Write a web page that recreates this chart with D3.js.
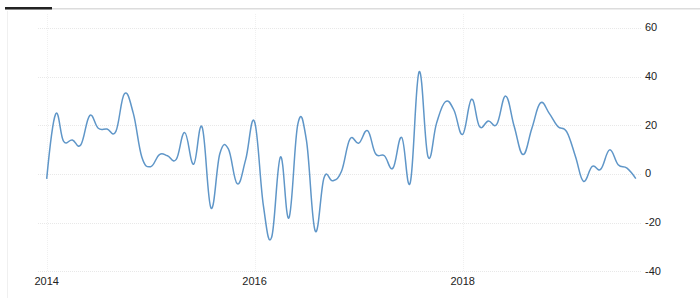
<!DOCTYPE html>
<html lang="en">
<head>
<meta charset="utf-8">
<title>Monthly change</title>
<script src="https://d3js.org/d3.v7.min.js"></script>
<style>
  body { margin: 0; background: #fff; font-family: "Liberation Sans", Arial, sans-serif; }
  .tick-label { font-size: 11px; fill: #222; }
</style>
</head>
<body>
<div id="vis"></div>
<script>
  // series, one value per month starting Jan 2014
  const startYear = 2014;
  const values = [
    -2, 24.5, 13.5, 14, 12, 24, 18.8, 18.5, 17.5, 33, 25, 7,
    3, 8, 7.5, 6, 17, 4, 19.2, -14, 8.3, 10.3, -4, 6,
    21.5, -13, -26, 7, -18, 20.5, 14, -23.4, -1.5, -2.8, 1, 14.3,
    12.7, 17.8, 8.3, 7.5, 2.4, 15, -3.5, 42, 7.2, 20.8, 29.7, 26.3,
    16.3, 30.7, 19.5, 21.8, 20.5, 32, 19.5, 8, 18.8, 29.2, 24.9, 19.5,
    17.4, 7.2, -3, 3.1, 2, 9.9, 3.8, 2.4, -1.9
  ];
  const yTicks = [-40, -20, 0, 20, 40, 60];
  const xTickYears = [2014, 2016, 2018];

  const width = 700;
  const height = 298;

  const data = values.map((v, i) => ({ date: new Date(startYear, i, 1), value: v }));

  const x = d3.scaleTime()
    .domain([new Date(2014, 0, 1), new Date(2018, 0, 1)])
    .range([46.7, 462.7]);

  const y = d3.scaleLinear()
    .domain([-40, 60])
    .range([271.3, 28]);

  const svg = d3.select('#vis')
    .append('svg')
    .attr('width', width)
    .attr('height', height);

  // frame: top rule with the dark tab, and the faint left border
  svg.append('rect').attr('x', 5).attr('y', 8).attr('width', 695).attr('height', 1.5).attr('fill', '#dcdcdc');
  svg.append('rect').attr('x', 5).attr('y', 7).attr('width', 47).attr('height', 2.5).attr('fill', '#222');
  svg.append('line')
    .attr('x1', 7.5).attr('x2', 7.5).attr('y1', 11).attr('y2', height)
    .attr('stroke', '#f0f0f0').attr('stroke-width', 1);

  // horizontal grid + right-side labels
  const yAxis = svg.append('g');
  yAxis.selectAll('line')
    .data(yTicks)
    .enter().append('line')
    .attr('x1', 38).attr('x2', 642)
    .attr('y1', d => Math.round(y(d)) + 0.5)
    .attr('y2', d => Math.round(y(d)) + 0.5)
    .attr('stroke', '#e8e8e8')
    .attr('stroke-dasharray', '1,1');
  yAxis.selectAll('text')
    .data(yTicks)
    .enter().append('text')
    .attr('class', 'tick-label')
    .attr('x', 645)
    .attr('y', d => y(d))
    .attr('dy', '0.3em')
    .text(d => d);

  // vertical grid at the year ticks + labels
  const xAxis = svg.append('g');
  xAxis.selectAll('line')
    .data(xTickYears)
    .enter().append('line')
    .attr('x1', d => Math.round(x(new Date(d, 0, 1))) + 0.5)
    .attr('x2', d => Math.round(x(new Date(d, 0, 1))) + 0.5)
    .attr('y1', 14).attr('y2', 272)
    .attr('stroke', '#f0f0f0')
    .attr('stroke-dasharray', '1,1');
  xAxis.selectAll('text')
    .data(xTickYears)
    .enter().append('text')
    .attr('class', 'tick-label')
    .attr('x', d => x(new Date(d, 0, 1)))
    .attr('y', 285)
    .attr('text-anchor', 'middle')
    .text(d => d);

  // the series
  const line = d3.line()
    .x(d => x(d.date))
    .y(d => y(d.value))
    .curve(d3.curveCardinal.tension(-0.2));

  svg.append('path')
    .datum(data)
    .attr('fill', 'none')
    .attr('stroke', '#5f96c8')
    .attr('stroke-width', 1.5)
    .attr('d', line);
</script>
</body>
</html>
